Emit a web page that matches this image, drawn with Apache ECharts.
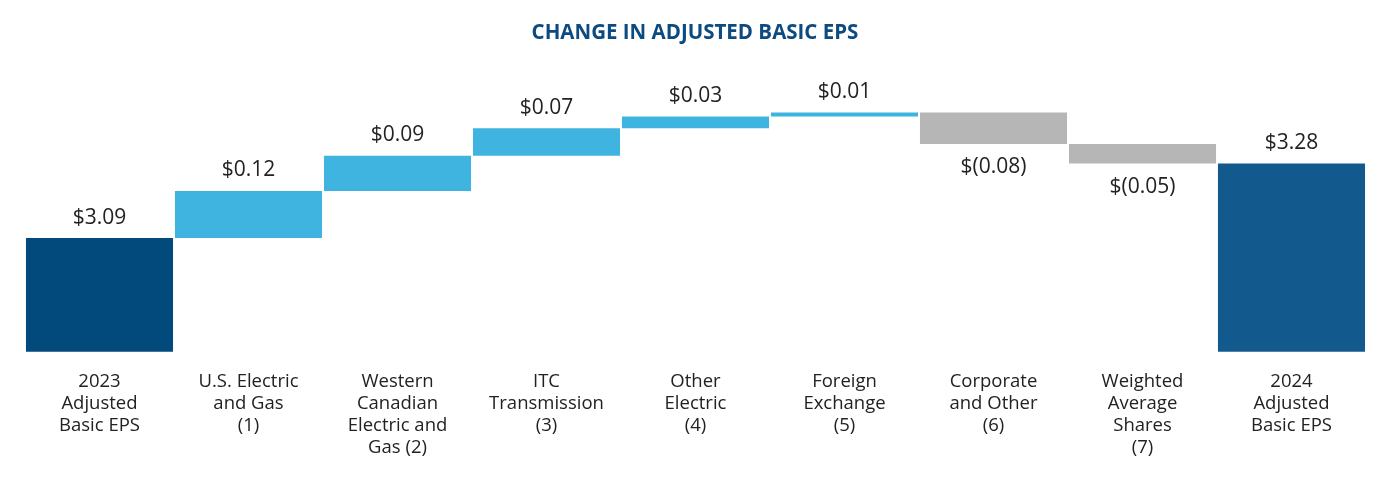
<!DOCTYPE html>
<html><head><meta charset="utf-8">
<script src="https://cdn.jsdelivr.net/npm/echarts@6/dist/echarts.min.js"></script>
<style>html,body{margin:0;padding:0;background:#fff}#c{width:1390px;height:480px}</style>
</head><body><div id="c"></div>
<script>
var categories = ['2023\nAdjusted\nBasic EPS','U.S. Electric\nand Gas\n(1)','Western\nCanadian\nElectric and\nGas (2)','ITC\nTransmission\n(3)','Other\nElectric\n(4)','Foreign\nExchange\n(5)','Corporate\nand Other\n(6)','Weighted\nAverage\nShares\n(7)','2024\nAdjusted\nBasic EPS'];
var changes = [3.09, 0.12, 0.09, 0.07, 0.03, 0.01, -0.08, -0.05, 3.28];
var isTotal = [true, false, false, false, false, false, false, false, true];

var FONT = '"Open Sans", sans-serif';
var bases = [], heights = [], running = 0;
changes.forEach(function(v, i){
  if (isTotal[i]) { bases.push(0); heights.push(v); running = v; }
  else if (v >= 0) { bases.push(running); heights.push(v); running += v; }
  else { running += v; bases.push(running); heights.push(-v); }
});
function fmt(v){ return v < 0 ? '$(' + (-v).toFixed(2) + ')' : '$' + v.toFixed(2); }
function colorFor(i){
  if (i === 0) return '#02497c';
  if (i === changes.length - 1) return '#12598e';
  return changes[i] >= 0 ? '#3fb4e1' : '#b6b6b6';
}
var visData = heights.map(function(h, i){
  return {
    value: h,
    itemStyle: { color: colorFor(i) },
    label: { show: true, position: changes[i] < 0 ? 'bottom' : 'top', distance: changes[i] < 0 ? 13 : 10,
             formatter: fmt(changes[i]) }
  };
});
var chart = echarts.init(document.getElementById('c'));
chart.setOption({
  animation: false,
  title: { text: 'CHANGE IN ADJUSTED BASIC EPS', left: 'center', top: 18,
    textStyle: { fontFamily: FONT, fontWeight: 'bold', fontSize: 20.5, color: '#0d4a80' } },
  grid: { left: 25, right: 24, top: 77.3, bottom: 128.3 },
  xAxis: { type: 'category', data: categories,
    axisLine: { show: false }, axisTick: { show: false },
    axisLabel: { interval: 0, margin: 19, fontFamily: FONT, fontSize: 18.5, lineHeight: 22, color: '#222' } },
  yAxis: { type: 'value', min: 2.8, max: 3.5, show: false, splitLine: { show: false } },
  series: [
    { type: 'bar', stack: 'w', data: bases, itemStyle: { color: 'transparent' }, barCategoryGap: '1.3%', silent: true },
    { type: 'bar', stack: 'w', data: visData, barCategoryGap: '1.3%',
      label: { fontFamily: FONT, fontSize: 21, color: '#222' } }
  ]
});
</script></body></html>
